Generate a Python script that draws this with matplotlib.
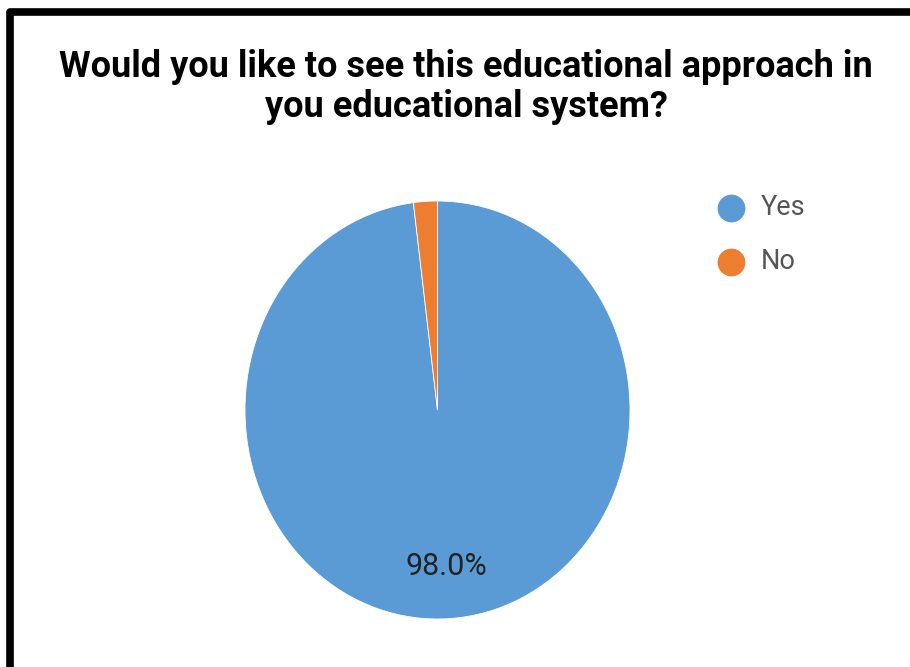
import matplotlib
matplotlib.use("Agg")
import matplotlib.pyplot as plt
from matplotlib.lines import Line2D
from matplotlib.patches import Rectangle

categories = ["Yes", "No"]
values = [98.0, 2.0]
colors = ["#5B9BD5", "#ED7D31"]
title = "Would you like to see this educational approach in\nyou educational system?"

W, H = 910, 667
fig = plt.figure(figsize=(W / 100, H / 100), dpi=100)
fig.patch.set_facecolor("white")

def fx(px):
    return px / W

def fy(py):
    return 1 - py / H

# pie axes (slightly stretched vertically like the reference)
left, right, top, bottom = 245, 630, 201, 619
ax = fig.add_axes([fx(left), fy(bottom), fx(right - left), (bottom - top) / H])
wedges, texts, autotexts = ax.pie(
    values, colors=colors, startangle=90, counterclock=False,
    autopct=lambda p: f"{p:.1f}%" if p > 5 else "", pctdistance=0.75,
    wedgeprops=dict(edgecolor="white", linewidth=0.6),
    textprops=dict(family="Roboto", fontsize=22, color="#222222"),
)
ax.set_aspect("auto")
ax.set_xlim(-1, 1)
ax.set_ylim(-1, 1)
ax.axis("off")

# title
fig.text(fx(466), fy(117), title, ha="center", va="baseline", family="Roboto",
         fontweight="bold", fontsize=26, color="black", linespacing=1.13)

# legend
leg_y = [208, 262]
for cat, col, y in zip(categories, colors, leg_y):
    fig.add_artist(Line2D([fx(731)], [fy(y)], marker="o", markersize=20,
                          color=col, markeredgewidth=0, linestyle="none"))
    fig.text(fx(761), fy(y), cat, ha="left", va="center", family="Roboto",
             fontsize=19.5, color="#555555")

# frame border (left & top)
fig.add_artist(Rectangle((fx(10), fy(12) - 2), 2, 2, transform=fig.transFigure,
                         fill=False, edgecolor="black", linewidth=5.5,
                         joinstyle="round", clip_on=False))

fig.savefig("out.png", dpi=100, facecolor="white")
